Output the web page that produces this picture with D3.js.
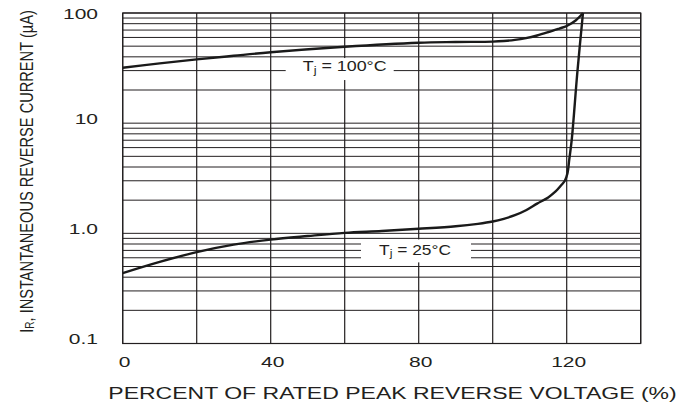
<!DOCTYPE html>
<html>
<head>
<meta charset="utf-8">
<script src="https://cdn.jsdelivr.net/npm/d3@7"></script>
<style>
  html, body { margin: 0; padding: 0; background: #fff; }
  svg { display: block; }
  text { font-family: "Liberation Sans", Arial, Helvetica, sans-serif; fill: #231f20; }
</style>
</head>
<body>
<svg id="chart" width="693" height="402"></svg>
<script>
// ---- Data ----
const pct25 = [0, 10, 20, 30, 40, 50, 60, 70, 80, 90, 96, 100, 103, 106, 109, 112, 115, 117, 118.5, 119.5, 120.2, 120.7, 121.35, 122.9, 124.4];
const cur25 = [0.435, 0.55, 0.676, 0.79, 0.877, 0.945, 1.01, 1.05, 1.10, 1.16, 1.22, 1.28, 1.355, 1.46, 1.62, 1.86, 2.12, 2.40, 2.73, 3.0, 3.5, 4.7, 7.0, 29.5, 100];

const pct100 = [0, 10, 20, 30, 40, 60, 80, 90, 100, 103, 106, 109, 112, 115, 118, 120, 122.5, 124.4];
const cur100 = [31.8, 34.9, 37.9, 40.9, 44, 49.4, 53.7, 54.5, 55.0, 55.7, 57.0, 59.2, 62.5, 67.0, 72.3, 76.2, 86, 100];

const xTickValues = [0, 40, 80, 120];
const xTickLabels = ["0", "40", "80", "120"];
const xGridValues = [0, 20, 40, 60, 80, 100, 120, 140];
const yTickValues = [0.1, 1, 10, 100];
const yTickLabels = ["0.1", "1.0", "10", "100"];
const yDecades = [0.1, 1, 10];
const yMultipliers = [1, 2, 3, 4, 5, 6, 7, 8, 9];

const annoText = ["100°C", "25°C"];
const annoPct = [60, 79];
const annoCur = [33, 0.715];

const xTitle = "PERCENT OF RATED PEAK REVERSE VOLTAGE (%)";
const yTitleMain = "I";
const yTitleSub = "R";
const yTitleRest = ", INSTANTANEOUS REVERSE CURRENT (\u00B5A)";

// ---- Layout ----
const svg = d3.select("#chart");
const pL = 122.7, pR = 640.7, pT = 13, pB = 343.5;
const ink = "#231f20";

const x = d3.scaleLinear().domain([0, 140]).range([pL, pR]);
const y = d3.scaleLog().domain([0.1, 100]).range([pB, pT]);

// grid lines
const gridY = [];
yDecades.forEach(d => yMultipliers.forEach(m => gridY.push(+(d * m).toPrecision(3))));
gridY.push(100);

svg.append("g").selectAll("line").data(gridY).join("line")
  .attr("x1", pL).attr("x2", pR)
  .attr("y1", d => y(d)).attr("y2", d => y(d))
  .attr("stroke", ink).attr("stroke-width", 1);

svg.append("g").selectAll("line").data(xGridValues).join("line")
  .attr("x1", d => x(d)).attr("x2", d => x(d))
  .attr("y1", pT).attr("y2", pB)
  .attr("stroke", ink).attr("stroke-width", 1.2);

// annotation boxes (white knock-outs)
const annoBoxes = [
  { w: 108, h: 22, dx: -5, dy: 3 },
  { w: 110, h: 23, dx: 1, dy: 1.5 }
];
annoText.forEach((t, i) => {
  const cx = x(annoPct[i]), cy = y(annoCur[i]);
  const b = annoBoxes[i];
  svg.append("rect")
    .attr("x", cx + b.dx - b.w / 2).attr("y", cy + b.dy - b.h / 2)
    .attr("width", b.w).attr("height", b.h)
    .attr("fill", "#fff");
});

// curves
const line = d3.line()
  .x(d => x(d[0])).y(d => y(d[1]))
  .curve(d3.curveCatmullRom.alpha(0.5));

svg.append("path")
  .datum(pct100.map((p, i) => [p, cur100[i]]))
  .attr("d", line).attr("fill", "none")
  .attr("stroke", "#1a1a1a").attr("stroke-width", 2.4)
  .attr("stroke-linejoin", "round");

svg.append("path")
  .datum(pct25.map((p, i) => [p, cur25[i]]))
  .attr("d", line).attr("fill", "none")
  .attr("stroke", "#1a1a1a").attr("stroke-width", 2.4)
  .attr("stroke-linejoin", "round");

// helper to horizontally fit text
function fit(sel, tx, ty, target, rot) {
  const w = sel.node().getComputedTextLength();
  const sx = target / w;
  sel.attr("transform", `translate(${tx},${ty})` + (rot ? ` rotate(${rot})` : "") + ` scale(${sx},1)`);
}

// annotation labels
const annoWidths = [84, 72];
annoText.forEach((t, i) => {
  const cx = x(annoPct[i]), cy = y(annoCur[i]);
  const txt = svg.append("text")
    .attr("text-anchor", "middle")
    .attr("dominant-baseline", "central")
    .style("font-size", "14px");
  txt.append("tspan").text("T");
  txt.append("tspan").attr("dy", 4).style("font-size", "10px").text("j");
  txt.append("tspan").attr("dy", -4).text(" = " + t);
  fit(txt, cx, cy, annoWidths[i]);
});

// frame
svg.append("rect")
  .attr("x", pL).attr("y", pT)
  .attr("width", pR - pL).attr("height", pB - pT)
  .attr("fill", "none").attr("stroke", ink).attr("stroke-width", 1.2);

// y tick labels
yTickValues.forEach((v, i) => {
  const t = svg.append("text")
    .attr("text-anchor", "end")
    .attr("dominant-baseline", "central")
    .style("font-size", "14px")
    .text(yTickLabels[i]);
  t.attr("transform", `translate(98,${Math.max(y(v) - 4, 14)}) scale(1.5,1)`);
});

// x tick labels
xTickValues.forEach((v, i) => {
  const t = svg.append("text")
    .attr("text-anchor", "middle")
    .attr("dominant-baseline", "central")
    .style("font-size", "14px")
    .text(xTickLabels[i]);
  t.attr("transform", `translate(${x(v) + 2},362) scale(1.5,1)`);
});

// x title
const xt = svg.append("text")
  .attr("text-anchor", "middle")
  .attr("dominant-baseline", "central")
  .style("font-size", "17px")
  .text(xTitle);
fit(xt, 392.5, 393, 569);

// y title
const yt = svg.append("text")
  .attr("text-anchor", "middle")
  .attr("dominant-baseline", "central")
  .style("font-size", "17.5px");
yt.append("tspan").text(yTitleMain);
yt.append("tspan").attr("dy", 4).style("font-size", "12px").text(yTitleSub);
yt.append("tspan").attr("dy", -4).text(yTitleRest);
fit(yt, 26, 171.5, 323, -90);
</script>
</body>
</html>
